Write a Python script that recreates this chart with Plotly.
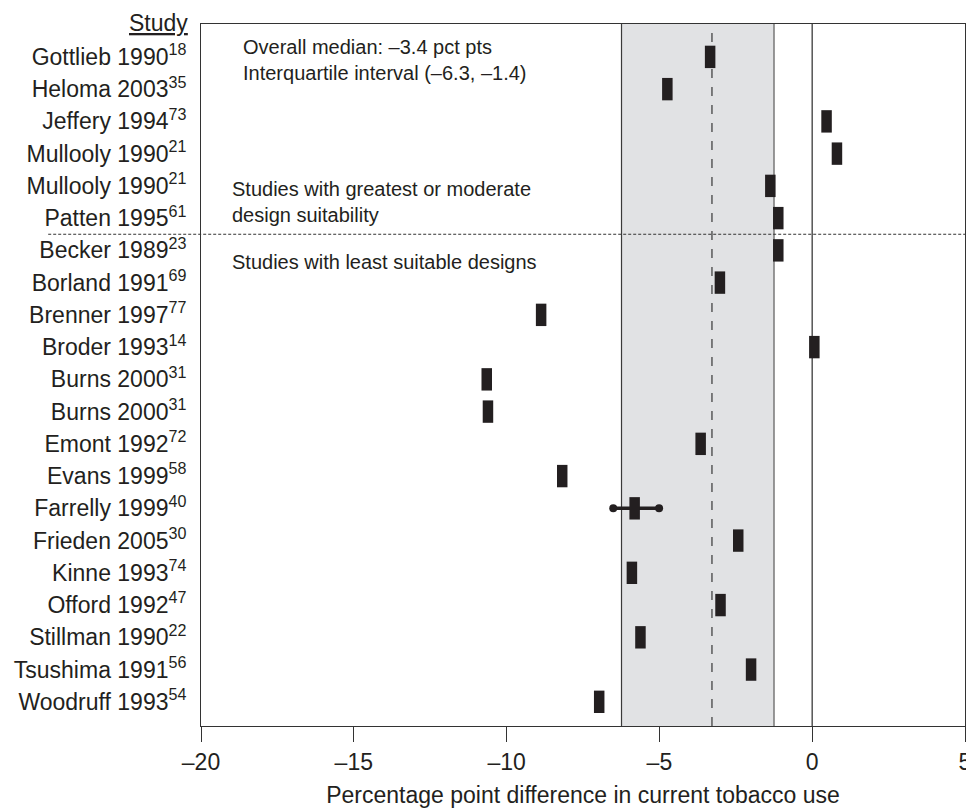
import plotly.graph_objects as go

# ---- data ----
studies = ["Gottlieb 1990", "Heloma 2003", "Jeffery 1994", "Mullooly 1990", "Mullooly 1990",
           "Patten 1995", "Becker 1989", "Borland 1991", "Brenner 1997", "Broder 1993",
           "Burns 2000", "Burns 2000", "Emont 1992", "Evans 1999", "Farrelly 1999",
           "Frieden 2005", "Kinne 1993", "Offord 1992", "Stillman 1990", "Tsushima 1991",
           "Woodruff 1993"]
refs = ["18", "35", "73", "21", "21", "61", "23", "69", "77", "14", "31", "31", "72", "58",
        "40", "30", "74", "47", "22", "56", "54"]
differences = [-3.34, -4.74, 0.47, 0.81, -1.37, -1.11, -1.11, -3.02, -8.87, 0.07, -10.65,
               -10.61, -3.65, -8.18, -5.81, -2.42, -5.90, -3.00, -5.62, -2.00, -6.97]
ci_study = "Farrelly 1999"
ci_low = -6.51
ci_high = -5.01
median_line = -3.28
iqr_low = -6.24
iqr_high = -1.25
group_split_after = 6  # first 6 studies are greatest/moderate suitability
x_ticks = [-20, -15, -10, -5, 0, 5]
x_tick_text = ["\u201320", "\u201315", "\u201310", "\u20135", "0", "5"]

rows = list(range(1, len(studies) + 1))
tick_text = [f"{s}<sup>{r}</sup>" for s, r in zip(studies, refs)]

FONT = "Liberation Sans, Arial, Helvetica, sans-serif"
INK = "#231f20"

fig = go.Figure()

# IQR shaded band
fig.add_shape(type="rect", xref="x", yref="paper", x0=iqr_low, x1=iqr_high, y0=0, y1=1,
              fillcolor="#e1e2e4", line=dict(width=0), layer="below")
fig.add_shape(type="line", xref="x", yref="paper", x0=iqr_low, x1=iqr_low, y0=0, y1=1,
              line=dict(color="#3a3a3a", width=1.2), layer="below")
fig.add_shape(type="line", xref="x", yref="paper", x0=iqr_high, x1=iqr_high, y0=0, y1=1,
              line=dict(color="#777777", width=1.5), layer="below")
# median dashed
fig.add_shape(type="line", xref="x", yref="paper", x0=median_line, x1=median_line, y0=0, y1=1,
              line=dict(color="#444444", width=1.3, dash="dash"), layer="below")
# zero line
fig.add_shape(type="line", xref="x", yref="paper", x0=0, x1=0, y0=0, y1=1,
              line=dict(color="#555555", width=1.5), layer="below")
# group separator
fig.add_shape(type="line", xref="paper", yref="y", x0=-0.2, x1=1.0,
              y0=group_split_after + 0.5, y1=group_split_after + 0.5,
              line=dict(color="#333333", width=1, dash="3px,2px"))

# Farrelly confidence interval
ci_row = rows[studies.index(ci_study)]
fig.add_trace(go.Scatter(x=[ci_low, ci_high], y=[ci_row, ci_row], mode="lines+markers",
                         line=dict(color=INK, width=3.5),
                         marker=dict(symbol="circle", size=8, color=INK),
                         showlegend=False, hoverinfo="skip"))

# point estimates
fig.add_trace(go.Scatter(x=differences, y=rows, mode="markers",
                         marker=dict(symbol="line-ns", size=16,
                                     line=dict(color=INK, width=10.5), color=INK),
                         showlegend=False))

fig.add_annotation(xref="paper", yref="paper", x=-0.0144, y=1.0, xanchor="right", yanchor="middle",
                   yshift=1, text="<u>Study</u>", showarrow=False,
                   font=dict(size=23, color=INK, family=FONT))

ann_font = dict(size=20, color=INK, family=FONT)
fig.add_annotation(xref="paper", yref="y", x=0.053, y=1.1, xanchor="left", yanchor="middle",
                   align="left", text="Overall median: \u20133.4 pct pts<br>Interquartile interval (\u20136.3, \u20131.4)",
                   showarrow=False, font=ann_font)
fig.add_annotation(xref="paper", yref="y", x=0.038, y=5.5, xanchor="left", yanchor="middle",
                   align="left", text="Studies with greatest or moderate<br>design suitability",
                   showarrow=False, font=ann_font)
fig.add_annotation(xref="paper", yref="y", x=0.038, y=7.37, xanchor="left", yanchor="middle",
                   align="left", text="Studies with least suitable designs",
                   showarrow=False, font=ann_font)

fig.update_layout(
    width=966, height=810,
    margin=dict(l=201, r=1, t=24, b=84),
    paper_bgcolor="white", plot_bgcolor="rgba(0,0,0,0)",
    font=dict(family=FONT, color=INK, size=23),
    xaxis=dict(range=[-20, 5], tickvals=x_ticks, ticktext=x_tick_text,
               ticks="outside", ticklen=15, tickwidth=1, tickcolor="#333333",
               showline=True, linecolor="#333333", linewidth=1, mirror=True,
               showgrid=False, zeroline=False, automargin=False, ticklabeloverflow="allow",
               tickfont=dict(size=23, color=INK, family=FONT),
               title=dict(text="Percentage point difference in current tobacco use",
                          font=dict(size=23, color=INK, family=FONT), standoff=13)),
    yaxis=dict(range=[21.75, -0.02], tickvals=rows, ticktext=tick_text,
               ticks="", showline=True, linecolor="#333333", linewidth=1, mirror=True,
               showgrid=False, zeroline=False, automargin=False, ticklabelstandoff=9,
               tickfont=dict(size=23, color=INK, family=FONT)),
)

fig.write_html("out.html", config={"displayModeBar": False},
               post_script="document.body.style.margin='0';document.body.style.overflow='hidden';")
